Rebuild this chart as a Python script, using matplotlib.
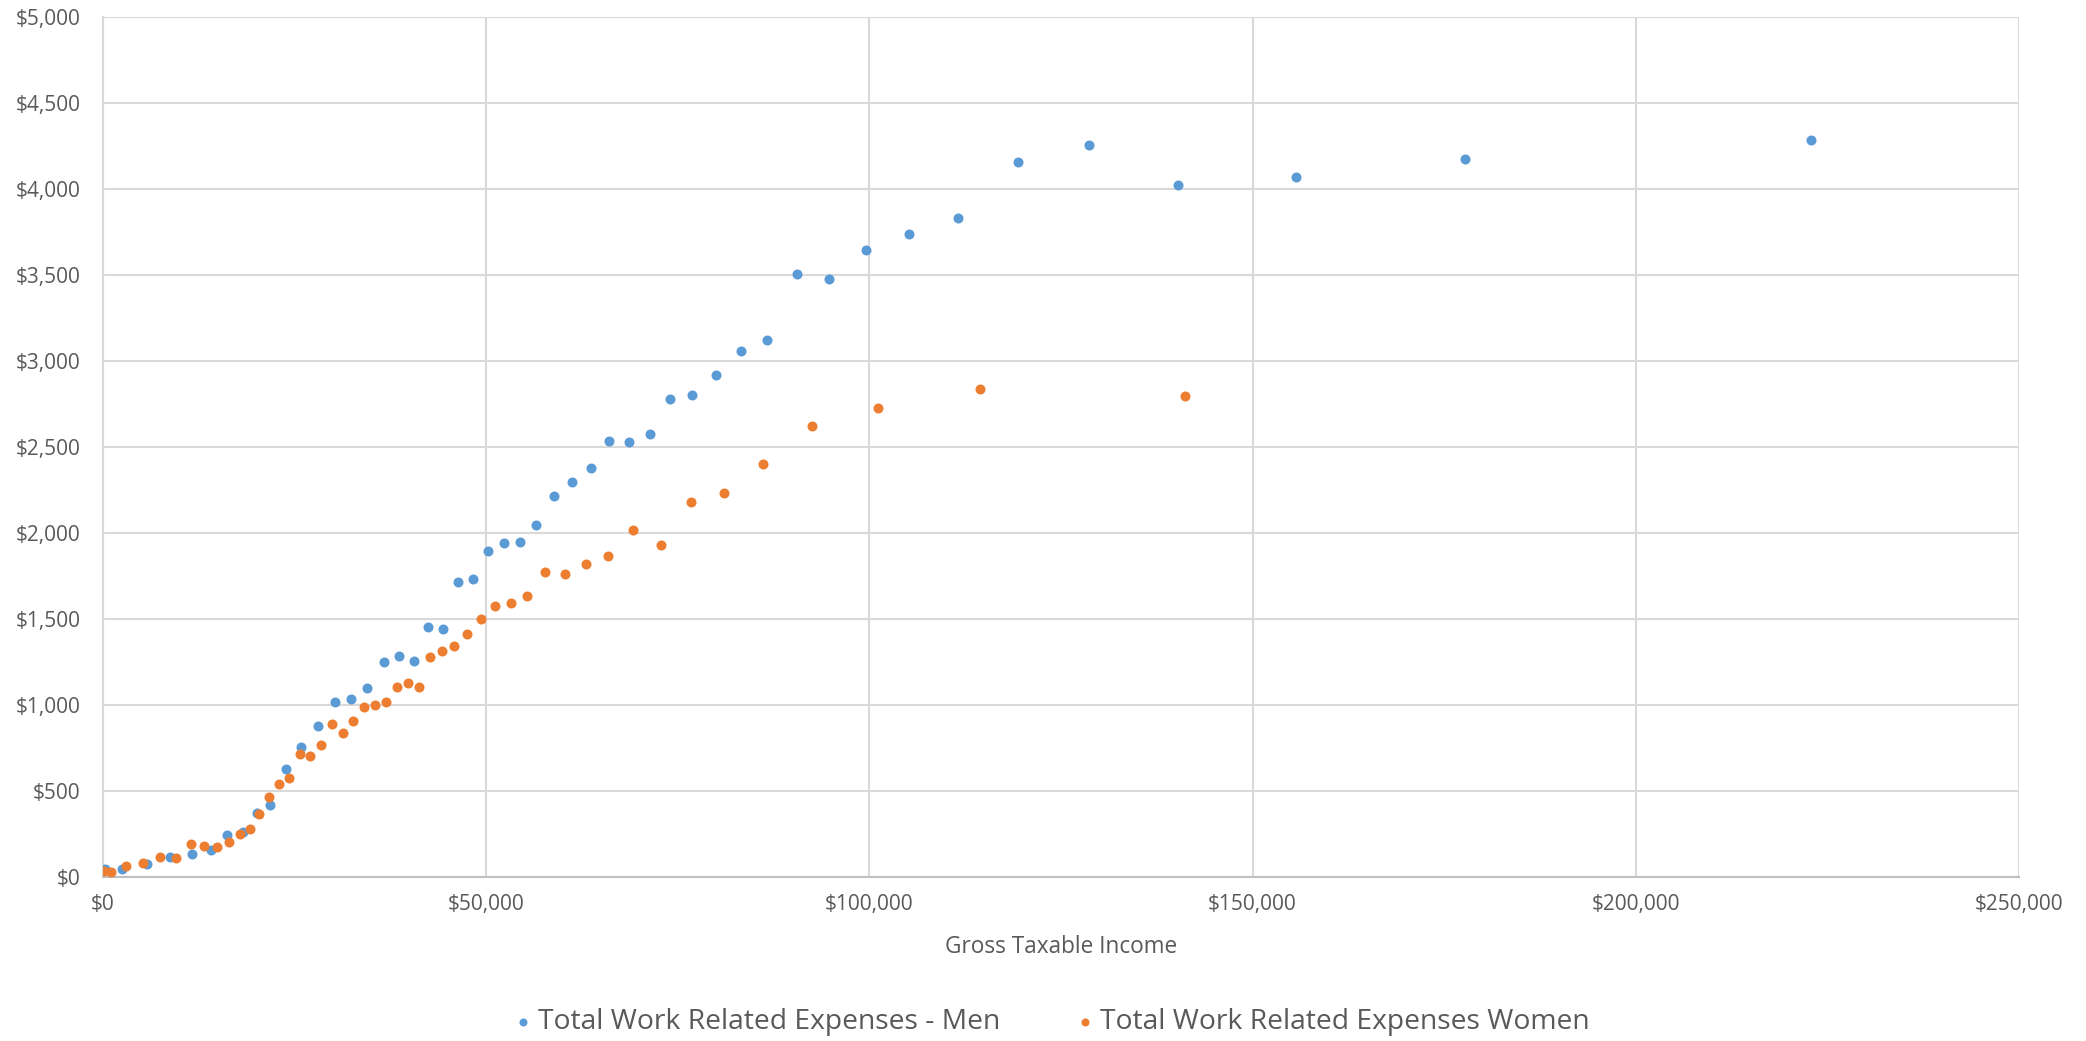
import matplotlib
matplotlib.use('Agg')
import matplotlib.pyplot as plt
from matplotlib.ticker import FuncFormatter, MultipleLocator

plt.rcParams['font.family'] = ['Open Sans', 'DejaVu Sans']

# Average work related expenses by gross taxable income band
men_income = [260, 2440, 5780, 8740, 11570, 14050, 16180, 18220, 20050, 21830,
              23830, 25790, 28010, 30270, 32400, 34490, 36620, 38620, 40570, 42400,
              44310, 46310, 48270, 50230, 52310, 54380, 56470, 58800, 61190, 63620,
              66010, 68620, 71360, 74010, 76880, 79970, 83230, 86670, 90500, 94670,
              99590, 105110, 111500, 119370, 128630, 140240, 155600, 177700, 222900]
men_expenses = [48, 46, 75, 116, 137, 161, 246, 261, 372, 420,
                628, 756, 880, 1021, 1035, 1102, 1250, 1288, 1255, 1457,
                1445, 1715, 1734, 1897, 1946, 1951, 2048, 2215, 2296, 2381,
                2538, 2529, 2575, 2781, 2806, 2922, 3060, 3124, 3508, 3477,
                3647, 3740, 3835, 4157, 4258, 4027, 4074, 4177, 4287]

women_income = [170, 1040, 3000, 5260, 7390, 9520, 11520, 13220, 14830, 16440,
                17870, 19180, 20390, 21700, 22960, 24270, 25680, 27020, 28400, 29830,
                31250, 32680, 34100, 35510, 36900, 38350, 39790, 41230, 42660, 44230,
                45790, 47530, 49330, 51180, 53200, 55350, 57700, 60290, 63050, 65930,
                69180, 72750, 76710, 81040, 86060, 92540, 101110, 114370, 141160]
women_expenses = [38, 29, 64, 85, 120, 114, 192, 184, 174, 203,
                  250, 281, 370, 465, 542, 579, 719, 705, 770, 891,
                  837, 909, 992, 1002, 1021, 1106, 1131, 1106, 1280, 1317,
                  1346, 1416, 1500, 1575, 1594, 1636, 1775, 1766, 1823, 1868,
                  2017, 1932, 2182, 2232, 2403, 2626, 2730, 2841, 2797]

BLUE = '#5B9BD5'
ORANGE = '#ED7D31'
TEXT = '#595959'
GRID = '#D9D9D9'

fig = plt.figure(figsize=(20.86, 10.41), dpi=100, facecolor='white')
ax = fig.add_axes([103 / 2086, 1 - 877.3 / 1041, (2019 - 103) / 2086, (877.3 - 17.3) / 1041])

ax.scatter(men_income, men_expenses, s=52, color=BLUE, linewidths=0, zorder=3,
           label='Total Work Related Expenses - Men')
ax.scatter(women_income, women_expenses, s=52, color=ORANGE, linewidths=0, zorder=3,
           label='Total Work Related Expenses Women')

ax.set_xlim(0, 250000)
ax.set_ylim(0, 5000)
ax.xaxis.set_major_locator(MultipleLocator(50000))
ax.yaxis.set_major_locator(MultipleLocator(500))
money = FuncFormatter(lambda v, _: f'${v:,.0f}')
ax.xaxis.set_major_formatter(money)
ax.yaxis.set_major_formatter(money)

ax.grid(True, color=GRID, linewidth=1.5, zorder=0)
ax.set_axisbelow(True)
for side in ['top', 'right']:
    ax.spines[side].set_visible(False)
ax.spines['left'].set_color(GRID)
ax.spines['left'].set_linewidth(1.5)
ax.spines['bottom'].set_color('#BFBFBF')
ax.spines['bottom'].set_linewidth(1.5)

ax.tick_params(axis='both', length=0, labelsize=15, labelcolor=TEXT)
ax.tick_params(axis='y', pad=16)
ax.tick_params(axis='x', pad=12)

fig.text(0.5086, 1 - 947 / 1041, 'Gross Taxable Income', ha='center', va='center',
         fontsize=16.3, color=TEXT)

leg = fig.legend(loc='center', bbox_to_anchor=(0.503, 1 - 1022 / 1041), ncol=2,
                 frameon=False, fontsize=20.3, markerscale=0.8, handletextpad=0.05,
                 columnspacing=2.5, handlelength=1.0)
for t in leg.get_texts():
    t.set_color(TEXT)

fig.savefig('out.png', dpi=100, facecolor='white')
